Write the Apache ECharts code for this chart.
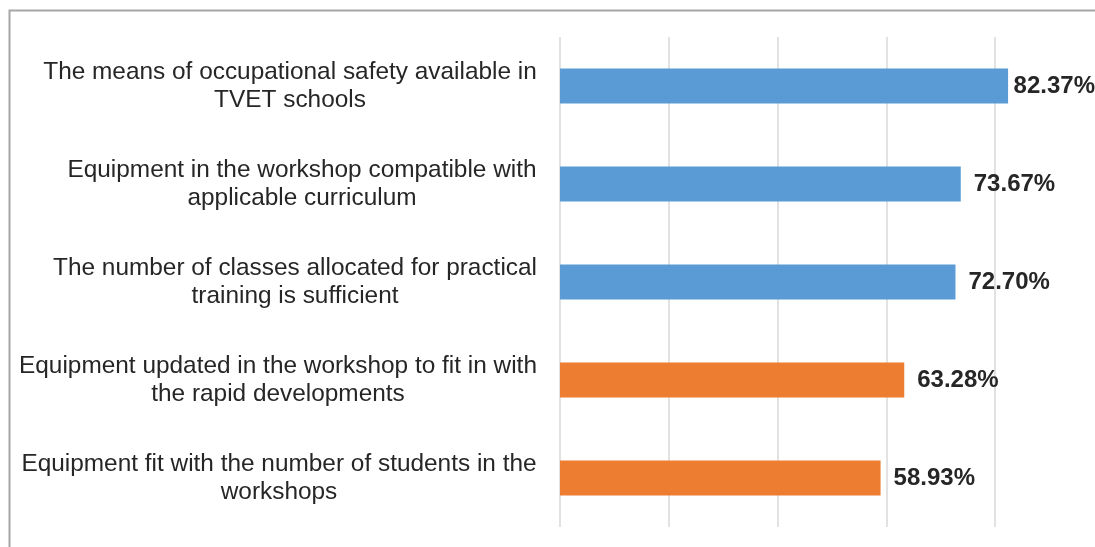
<!DOCTYPE html>
<html>
<head>
<meta charset="utf-8">
<title>TVET workshop survey</title>
<script src="https://cdn.jsdelivr.net/npm/echarts@6/dist/echarts.min.js"></script>
<style>
  html, body { margin: 0; padding: 0; background: #fff; overflow: hidden; }
  /* wider than the window: the 100% grid line falls outside the picture */
  #chart { width: 1120px; height: 547px; }
</style>
</head>
<body>
<div id="chart"></div>
<script>
// categories, top to bottom
const categories = [
  'The means of occupational safety available in\nTVET schools',
  'Equipment in the workshop compatible with\napplicable curriculum',
  'The number of classes allocated for practical\ntraining is sufficient',
  'Equipment updated in the workshop to fit in with\nthe rapid developments',
  'Equipment fit with the number of students in the\nworkshops'
]
// percentages
const values = [82.37, 73.67, 72.70, 63.28, 58.93]
// x axis ticks (labels hidden in the picture)
const xTicks = [0, 20, 40, 60, 80, 100]

const BLUE = '#5b9bd5'
const ORANGE = '#ed7d31'
const labelSize = 24.4
const labelFamily = '"Liberation Sans", Arial, sans-serif'
const viewWidth = 1095

// measure the widest line of each label so lines can be centred in a right aligned block
let ctx = document.createElement('canvas').getContext('2d')
ctx.font = labelSize + 'px ' + labelFamily
let rich = {}
categories.forEach(function (c, i) {
  let w = Math.max.apply(null, c.split('\n').map(function (l) { return ctx.measureText(l).width }))
  rich['c' + i] = {
    width: Math.ceil(w),
    align: 'center',
    fontSize: labelSize,
    fontFamily: labelFamily,
    lineHeight: 28,
    color: '#262626'
  }
})

let chart = echarts.init(document.getElementById('chart'))
chart.setOption({
  animation: false,
  graphic: [
    { // outer frame, cut off at right and bottom
      type: 'rect',
      left: 7,
      top: 8,
      shape: { width: 1200, height: 700 },
      style: { fill: 'none', stroke: '#a6a6a6', lineWidth: 2 }
    }
  ],
  grid: {
    left: 560,
    width: 544,
    top: 37,
    bottom: 20,
    containLabel: false
  },
  xAxis: {
    type: 'value',
    min: xTicks[0],
    max: xTicks[xTicks.length - 1],
    interval: xTicks[1] - xTicks[0],
    axisLabel: { show: false },
    axisLine: { show: false },
    axisTick: { show: false },
    splitLine: { lineStyle: { color: '#d9d9d9', width: 1.5 } }
  },
  yAxis: {
    type: 'category',
    inverse: true,
    data: categories,
    axisLine: { show: false },
    axisTick: { show: false },
    axisLabel: {
      margin: 23,
      formatter: function (value, index) {
        return value.split('\n').map(function (l) { return '{c' + index + '|' + l + '}' }).join('\n')
      },
      rich: rich
    }
  },
  series: [
    {
      type: 'bar',
      data: values,
      barWidth: 35,
      itemStyle: {
        color: function (p) { return p.dataIndex < 3 ? BLUE : ORANGE }
      },
      label: {
        show: true,
        position: 'right',
        distance: 13,
        formatter: function (p) { return p.value.toFixed(2) + '%' },
        fontSize: 24,
        fontWeight: 'bold',
        fontFamily: labelFamily,
        color: '#262626'
      },
      // keep a label inside the visible area, as the original does for the top bar
      labelLayout: function (params) {
        let r = params.labelRect
        let over = r.x + r.width - viewWidth
        return over > 0 ? { dx: -over } : {}
      }
    }
  ]
})
</script>
</body>
</html>
